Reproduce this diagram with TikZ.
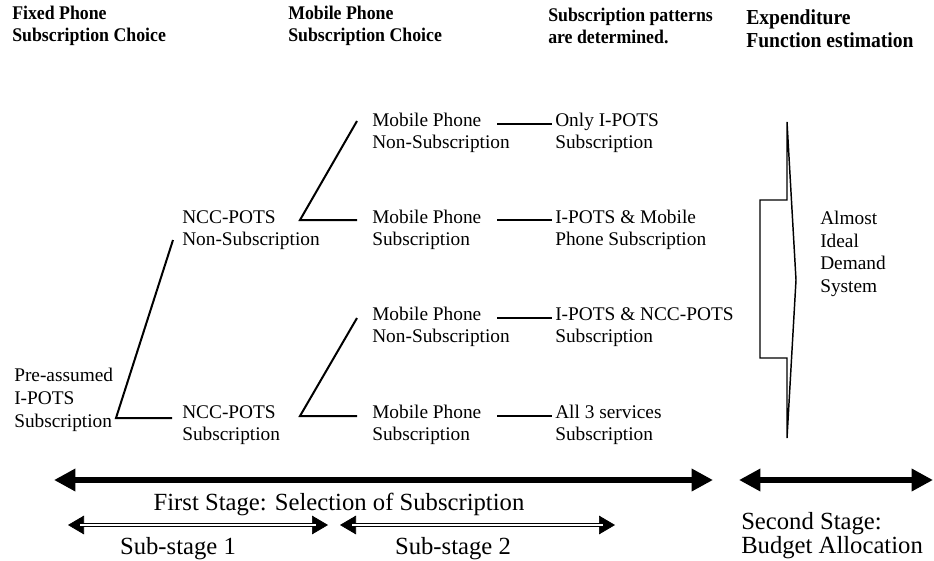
\documentclass[tikz,border=0pt]{standalone}
\usepackage{fontspec}
\setmainfont{Liberation Serif}
\newfontfamily\headfont[FakeStretch=0.92]{Liberation Serif}
\usetikzlibrary{arrows.meta}

\tikzset{
  choice/.style={anchor=west, align=left, inner sep=0pt,
    font=\fontsize{14.5}{17}\selectfont},
  heading/.style={anchor=west, align=left, inner sep=0pt,
    font=\headfont\bfseries\fontsize{14.5}{16.5}\selectfont},
  stagetext/.style={inner sep=0pt, font=\fontsize{18.5}{18}\selectfont},
  branch/.style={line width=1.5pt},
  stagearrow/.style={line width=5pt,
    {Triangle[length=16pt,width=16pt]}-{Triangle[length=16pt,width=16pt]}},
  subtips/.style={line width=0.5pt,
    {Triangle[length=12pt,width=14pt]}-{Triangle[length=12pt,width=14pt]}},
  subline/.style={double, line width=1.1pt, double distance=1.3pt,
    shorten <=9pt, shorten >=9pt}
}

\begin{document}
\begin{tikzpicture}[x=0.75pt,y=-0.75pt]
  \useasboundingbox (0,0) rectangle (934,560);

  % column headings
  \node[heading] (h1) at (12,26) {Fixed Phone\\Subscription Choice};
  \node[heading] (h2) at (288,26) {Mobile Phone\\Subscription Choice};
  \node[heading] (h3) at (548,26) {Subscription patterns\\are determined.};
  \node[heading, font=\headfont\bfseries\fontsize{16}{17}\selectfont] (h4)
    at (746,29) {Expenditure\\Function estimation};

  % choices
  \begin{scope}[every node/.style={choice}]
    \node (pre)  at (14,400)  {Pre-assumed\\I-POTS\\Subscription};
    \node (nccn) at (182,230) {NCC-POTS\\Non-Subscription};
    \node (nccs) at (182,425) {NCC-POTS\\Subscription};
    \node (mob1) at (372,133) {Mobile Phone\\Non-Subscription};
    \node (mob2) at (372,230) {Mobile Phone\\Subscription};
    \node (mob3) at (372,327) {Mobile Phone\\Non-Subscription};
    \node (mob4) at (372,425) {Mobile Phone\\Subscription};
    \node (pat1) at (555,133) {Only I-POTS\\Subscription};
    \node (pat2) at (555,230) {I-POTS \& Mobile\\Phone Subscription};
    \node (pat3) at (555,327) {I-POTS \& NCC-POTS\\Subscription};
    \node (pat4) at (555,425) {All 3 services\\Subscription};
    \node (aids) at (820,254) {Almost\\Ideal\\Demand\\System};
  \end{scope}

  \coordinate (r0) at (116,418);
  \coordinate (r1) at (300,220);
  \coordinate (r2) at (300,416);

  \begin{scope}[every path/.style={branch}]
    \draw ([shift={(-9,10)}]nccn.west) -- (r0) -- ([shift={(-10,-7)}]nccs.west);
    \draw ([shift={(-15,-12)}]mob1.west) -- (r1) -- ([shift={(-15,-10)}]mob2.west);
    \draw ([shift={(-15,-9)}]mob3.west) -- (r2) -- ([shift={(-15,-9)}]mob4.west);
    \draw ([shift={(125,-9)}]mob1.west) -- ([shift={(-3,-9)}]pat1.west);
    \draw ([shift={(125,-10)}]mob2.west) -- ([shift={(-3,-10)}]pat2.west);
    \draw ([shift={(125,-9)}]mob3.west) -- ([shift={(-3,-9)}]pat3.west);
    \draw ([shift={(125,-9)}]mob4.west) -- ([shift={(-3,-9)}]pat4.west);
  \end{scope}

  % arrow into the demand system
  \draw[line width=1.1pt, line join=miter]
    (787,122) -- (787,200) -- (760,200) -- (760,358) -- (787,358)
    -- (787,438) -- (796,280) -- cycle;

  % stages
  \coordinate (s1a) at (54,480);
  \coordinate (s1b) at (713,480);
  \coordinate (s2a) at (739,480);
  \coordinate (s2b) at (933,480);
  \draw[stagearrow] (s1a) -- (s1b);
  \draw[stagearrow] (s2a) -- (s2b);
  \node[stagetext] (st1) at (339,504) {First Stage: Selection of Subscription};
  \node[stagetext, anchor=west, align=left] (st2) at (741,536) {Second Stage:\\Budget Allocation};

  \coordinate (u1a) at (68,525);
  \coordinate (u1b) at (328,525);
  \coordinate (u2a) at (340,525);
  \coordinate (u2b) at (615,525);
  \draw[subtips] (u1a) -- (u1b);
  \draw[subline] (u1a) -- (u1b);
  \draw[subtips] (u2a) -- (u2b);
  \draw[subline] (u2a) -- (u2b);
  \node[stagetext] (sub1) at (178,549) {Sub-stage 1};
  \node[stagetext] (sub2) at (453,549) {Sub-stage 2};
\end{tikzpicture}
\end{document}
